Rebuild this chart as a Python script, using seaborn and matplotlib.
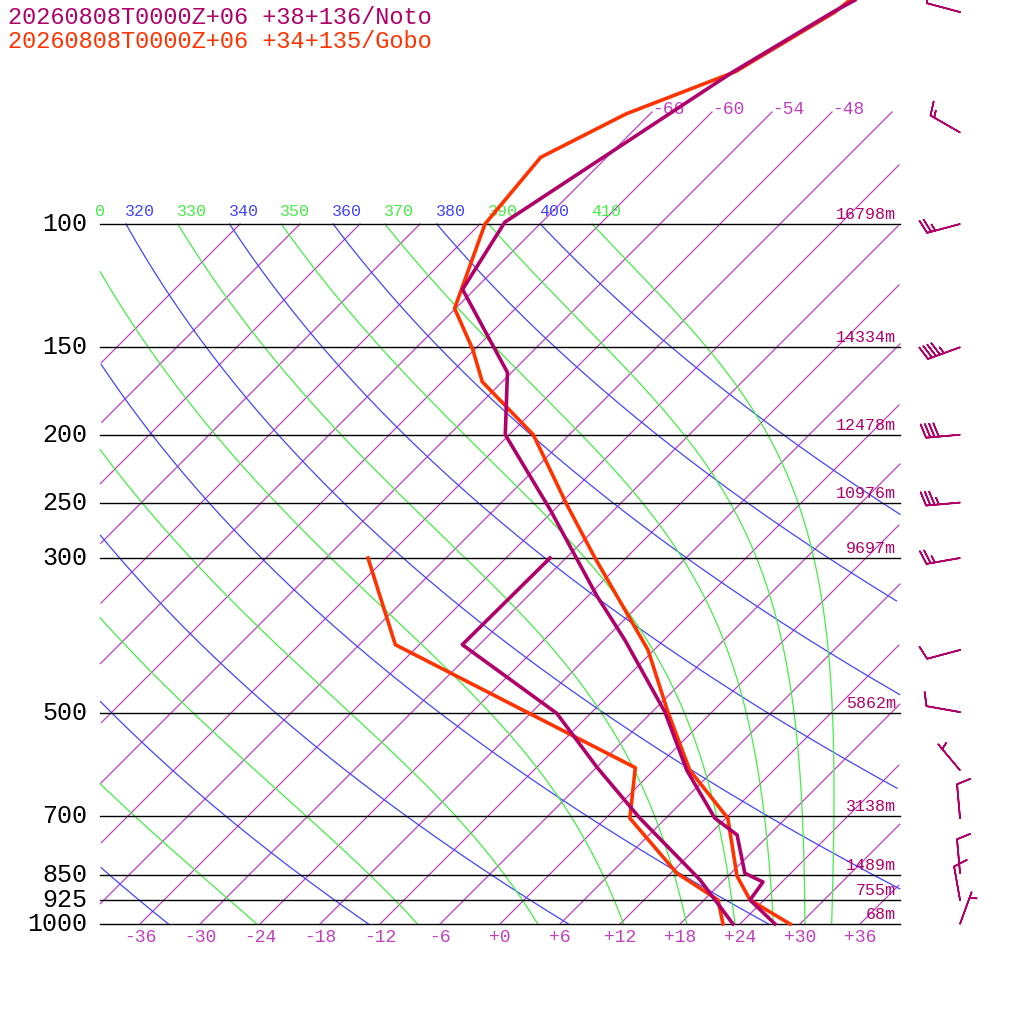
import numpy as np
import matplotlib
matplotlib.use("Agg")
import matplotlib.pyplot as plt
import seaborn as sns
import pandas as pd

# ---------------- data ----------------
noto_T_p = [1000, 924, 871, 846, 746, 706, 603, 498, 393, 340, 256, 200, 163, 124, 99.4, 60.6, 49.8, 47.9]
noto_T   = [27.5, 22.6, 22.1, 19.4, 14.8, 10.9, 3.3, -4.7, -15.9, -23.1, -36.4, -48.4, -54.4, -67.2, -69.7, -61.9, -57.9, -56.9]
noto_Td_p = [1000, 865, 706, 598, 500, 399, 300]
noto_Td   = [23.3, 15.6, 3.4, -5.9, -15.4, -31.7, -31.6]
gobo_T_p = [1000, 924, 854, 706, 603, 498, 406, 300, 252, 200, 168, 151, 132, 100, 80.3, 69.6, 60.6, 49.8, 47.9]
gobo_T   = [29.0, 22.6, 18.9, 12.2, 3.6, -4.4, -12.6, -27.1, -35.2, -45.6, -56.0, -60.2, -66.1, -71.5, -72.6, -68.4, -61.7, -57.7, -57.4]
gobo_Td_p = [1000, 924, 846, 706, 598, 399, 300]
gobo_Td   = [22.3, 19.4, 12.6, 2.4, -2.1, -38.4, -49.8]

levels = [100, 150, 200, 250, 300, 500, 700, 850, 925, 1000]
heights = ["16798m", "14334m", "12478m", "10976m", "9697m", "5862m", "3138m", "1489m", "755m", "68m"]
temp_ticks = [-36, -30, -24, -18, -12, -6, 0, 6, 12, 18, 24, 30, 36]
dry_thetas = list(range(200, 401, 20))
moist_thetas = list(range(250, 411, 20))
iso_top = [-66, -60, -54, -48]

wind_p   = [49.8, 74, 100, 150, 200, 250, 300, 406, 498, 603, 706, 846, 924, 1000]
wind_dir = [285, 300, 255, 250, 265, 265, 260, 255, 280, 320, 355, 355, 350, 20]
wind_spd = [10, 15, 25, 45, 40, 35, 25, 10, 10, 5, 10, 10, 10, 5]

# ---------------- geometry ----------------
SC = 304.0
def Y(p):
    return 1024 - (924 - SC*np.log(1000/np.asarray(p, float)))
def X(T, p):
    return 500 + 10*np.asarray(T, float) + SC*np.log(1000/np.asarray(p, float))

PURPLE = "#b0006a"; RED = "#ff3300"; MAG = "#c040c0"; BLUE = "#4444ff"; GREEN = "#44ee44"
mono = "Liberation Mono"

fig = plt.figure(figsize=(10.24, 10.24), dpi=100)
ax = fig.add_axes([0, 0, 1, 1])
ax.set_xlim(0, 1024); ax.set_ylim(0, 1024); ax.axis("off")

def clipped(x, y, ymax=1024-110):
    m = (x >= 100) & (x <= 900) & (y <= ymax)
    x = np.where(m, x, np.nan); y = np.where(m, y, np.nan)
    return x, y

# isotherms
for T in range(-96, 48, 6):
    ptop = 1000*np.exp(-(924-112)/SC) if T >= -66 else 100
    p = np.geomspace(1000, ptop, 400)
    x, y = clipped(X(T, p), Y(p))
    ax.plot(x, y, color=MAG, lw=0.9, zorder=1)
for T in iso_top:
    ax.text(X(T, 1000*np.exp(-(924-110)/SC)) + 14, 1024-110, f"{T:+d}", color=MAG,
            fontsize=13, family=mono, ha="center", va="center")

# dry adiabats
for th in dry_thetas:
    p = np.geomspace(1000, 100, 300)
    T = th*(p/1000)**0.2857 - 273.15
    x, y = clipped(X(T, p), Y(p))
    ax.plot(x, y, color=BLUE, lw=0.9, zorder=1)

# moist adiabats (integrated from 100 hPa downward)
def es(Tk):
    Tc = Tk - 273.15
    return 6.112*np.exp(17.67*Tc/(Tc+243.5))
def moist(th):
    ps = np.geomspace(100, 1000, 600)
    T = th*(0.1)**0.2857
    out = [T]
    for i in range(1, len(ps)):
        p0 = ps[i-1]; dp = ps[i]-p0
        rs = 0.622*es(T)/(p0-es(T))
        L = 2.5e6; Rd = 287.0; cp = 1005.0
        dTdp = (Rd*T + L*rs)/(cp + L*L*rs*0.622/(Rd*T*T))/p0
        T = T + dTdp*dp
        out.append(T)
    return ps, np.array(out) - 273.15
for th in moist_thetas:
    p, T = moist(th)
    x, y = clipped(X(T, p), Y(p))
    ax.plot(x, y, color=GREEN, lw=0.9, zorder=1)

# theta labels at 100 hPa
for th in range(310, 420, 10):
    xx = X(th*0.1**0.2857 - 273.15, 100) + 14
    col = BLUE if (th // 10) % 2 == 0 else GREEN
    ax.text(max(xx, 100), 1024-212, str(th) if xx > 112 else "0", color=col, fontsize=12,
            family=mono, ha="center", va="center")

# pressure lines
for lev, h in zip(levels, heights):
    ax.plot([100, 900], [Y(lev), Y(lev)], color="black", lw=1, zorder=2)
    ax.text(87, Y(lev) - 7, str(lev), fontsize=18, family=mono, ha="right", va="baseline")
    ax.text(896, Y(lev)+2, h, fontsize=12, family=mono, color=PURPLE, ha="right", va="bottom")

for T in temp_ticks:
    ax.text(X(T, 1000), 1024-937, f"{T:+d}" if T != 0 else "+0", color=MAG,
            fontsize=13, family=mono, ha="center", va="center")

# soundings
def draw(p, T, col):
    df = pd.DataFrame({"x": X(T, p), "y": Y(p)})
    sns.lineplot(data=df, x="x", y="y", sort=False, estimator=None, color=col, lw=2.6, ax=ax, zorder=5)
draw(gobo_T_p, gobo_T, RED)
draw(gobo_Td_p, gobo_Td, RED)
draw(noto_T_p, noto_T, PURPLE)
draw(noto_Td_p, noto_Td, PURPLE)
ax.set_xlim(0, 1024); ax.set_ylim(0, 1024); ax.axis("off")

# wind barbs
wd = np.radians(wind_dir); ws = np.array(wind_spd, float)
u = -ws*np.sin(wd); v = -ws*np.cos(wd)
ax.barbs(np.full(len(wind_p), 960.0), Y(wind_p), u, v, color=PURPLE, length=7, lw=1.2,
         barb_increments=dict(half=5, full=10, flag=50), zorder=6)

ax.text(8, 1024-18, "20260808T0000Z+06 +38+136/Noto", color=PURPLE, fontsize=17, family=mono, va="center")
ax.text(8, 1024-42, "20260808T0000Z+06 +34+135/Gobo", color=RED, fontsize=17, family=mono, va="center")

fig.savefig("out.png", dpi=100)
